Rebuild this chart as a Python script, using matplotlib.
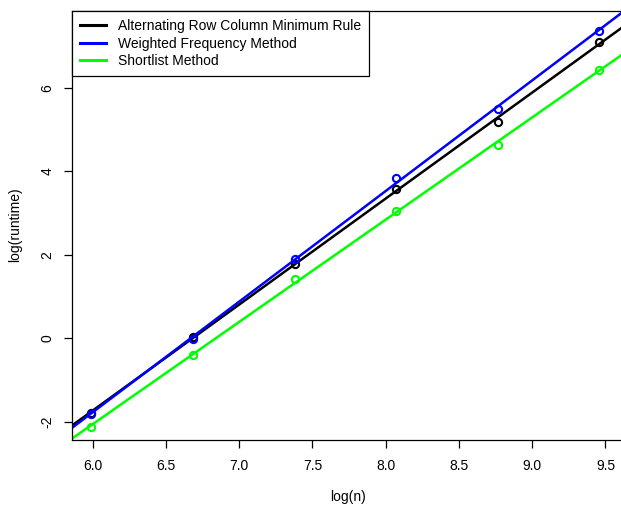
import matplotlib
matplotlib.use("Agg")
import matplotlib.pyplot as plt
import numpy as np

# log(n) for n = 400, 800, ..., 12800 and the measured log(runtime) per method
log_n = [5.99, 6.685, 7.378, 8.071, 8.764, 9.457]
alt_row_col = [-1.79, 0.04, 1.78, 3.58, 5.18, 7.09]
weighted_freq = [-1.81, -0.01, 1.90, 3.85, 5.49, 7.36]
shortlist = [-2.12, -0.40, 1.42, 3.05, 4.62, 6.43]

series_names = [
    "Alternating Row Column Minimum Rule",
    "Weighted Frequency Method",
    "Shortlist Method",
]
series_values = [alt_row_col, weighted_freq, shortlist]
series_colors = ["#000000", "#0000FF", "#00FF00"]

x_ticks = [6.0, 6.5, 7.0, 7.5, 8.0, 8.5, 9.0, 9.5]
y_ticks = [-2, 0, 2, 4, 6]

plt.rcParams["font.family"] = ["Liberation Sans", "DejaVu Sans"]
plt.rcParams["font.size"] = 10

W, H = 621, 505
fig = plt.figure(figsize=(W / 100, H / 100), dpi=100)
left_px, right_px, top_px, bottom_px = 71.7, 621.0, 10.7, 440.0
ax = fig.add_axes([
    left_px / W,
    1 - bottom_px / H,
    (right_px - left_px) / W,
    (bottom_px - top_px) / H,
])

x_fit = np.linspace(5.5, 10.0, 50)
for name, values, color in zip(series_names, series_values, series_colors):
    # Least-squares line through each method's points (as abline(lm()) would draw)
    slope, intercept = np.polyfit(log_n, values, 1)
    ax.plot(x_fit, slope * x_fit + intercept, color=color, linewidth=1.8, label=name)
    ax.plot(log_n, values, linestyle="none", marker="o", markersize=5.2,
            markerfacecolor="none", markeredgecolor=color, markeredgewidth=1.5)

ax.set_xlim(5.857, 9.606)
ax.set_ylim(-2.436, 7.847)
ax.set_xticks(x_ticks)
ax.set_xticklabels([f"{t:.1f}" for t in x_ticks])
ax.set_yticks(y_ticks)
ax.set_yticklabels([str(t) for t in y_ticks], rotation=90, va="center")

for side in ["left", "bottom", "top"]:
    ax.spines[side].set_linewidth(0.9)
ax.spines["right"].set_visible(False)
ax.tick_params(axis="both", direction="out", length=5.5, width=0.9, labelsize=10)
ax.tick_params(axis="x", pad=8)
ax.tick_params(axis="y", pad=7)

fig.text((left_px + 624) / 2 / W, 1 - 497 / H, "log(n)", ha="center", va="center", fontsize=10)
fig.text(15 / W, 1 - 225 / H, "log(runtime)", ha="center", va="center", rotation=90, fontsize=10)

legend = ax.legend(
    loc="upper left",
    bbox_to_anchor=(0, 1),
    borderaxespad=0,
    fancybox=False,
    framealpha=1,
    edgecolor="black",
    fontsize=10,
    handlelength=1.9,
    handletextpad=0.8,
    labelspacing=0.25,
    borderpad=0.6,
)
legend.get_frame().set_linewidth(0.9)
for line in legend.get_lines():
    line.set_linewidth(2.2)

fig.savefig("out.png", dpi=100)
